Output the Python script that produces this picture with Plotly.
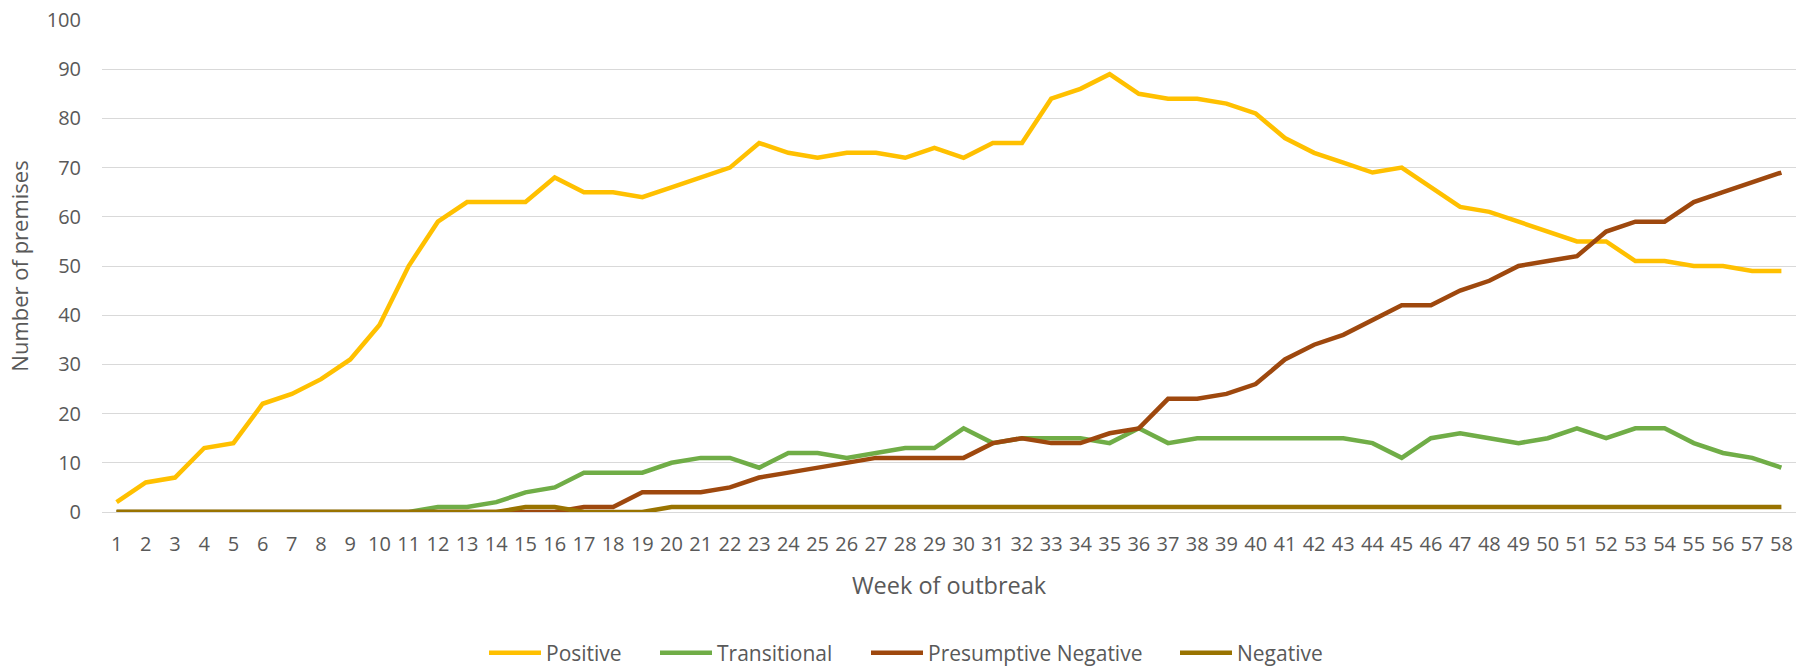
import plotly.graph_objects as go

weeks = list(range(1, 59))

positive = [2, 6, 7, 13, 14, 22, 24, 27, 31, 38,
            50, 59, 63, 63, 63, 68, 65, 65, 64, 66,
            68, 70, 75, 73, 72, 73, 73, 72, 74, 72,
            75, 75, 84, 86, 89, 85, 84, 84, 83, 81,
            76, 73, 71, 69, 70, 66, 62, 61, 59, 57,
            55, 55, 51, 51, 50, 50, 49, 49]

transitional = [0, 0, 0, 0, 0, 0, 0, 0, 0, 0,
                0, 1, 1, 2, 4, 5, 8, 8, 8, 10,
                11, 11, 9, 12, 12, 11, 12, 13, 13, 17,
                14, 15, 15, 15, 14, 17, 14, 15, 15, 15,
                15, 15, 15, 14, 11, 15, 16, 15, 14, 15,
                17, 15, 17, 17, 14, 12, 11, 9]

presumptive_negative = [0, 0, 0, 0, 0, 0, 0, 0, 0, 0,
                        0, 0, 0, 0, 0, 0, 1, 1, 4, 4,
                        4, 5, 7, 8, 9, 10, 11, 11, 11, 11,
                        14, 15, 14, 14, 16, 17, 23, 23, 24, 26,
                        31, 34, 36, 39, 42, 42, 45, 47, 50, 51,
                        52, 57, 59, 59, 63, 65, 67, 69]

negative = [0, 0, 0, 0, 0, 0, 0, 0, 0, 0,
            0, 0, 0, 0, 1, 1, 0, 0, 0, 1,
            1, 1, 1, 1, 1, 1, 1, 1, 1, 1,
            1, 1, 1, 1, 1, 1, 1, 1, 1, 1,
            1, 1, 1, 1, 1, 1, 1, 1, 1, 1,
            1, 1, 1, 1, 1, 1, 1, 1]

series_names = ["Positive", "Transitional", "Presumptive Negative", "Negative"]
series_values = [positive, transitional, presumptive_negative, negative]
series_colors = ["#FFC000", "#70AD47", "#9E480E", "#997300"]

W, H = 1813, 666
M_L, M_R, M_T, M_B = 102, 17, 20, 154
plot_w = W - M_L - M_R
plot_h = H - M_T - M_B

# pixel positions where each legend entry's symbol should start (Excel-like spacing)
legend_symbol_px = [491, 662, 873, 1182]
legend_ids = ["legend", "legend2", "legend3", "legend4"]
legend_center_px = 653

font_family = "Open Sans, sans-serif"
grey = "#595959"

fig = go.Figure()
for name, vals, color, lid in zip(series_names, series_values, series_colors, legend_ids):
    fig.add_trace(go.Scatter(
        x=weeks, y=vals, name=name, mode="lines",
        line=dict(color=color, width=4.5, shape="linear"),
        legend=lid,
    ))

legend_y = (H - M_B - legend_center_px) / plot_h
legend_common = dict(orientation="h", xanchor="left", y=legend_y, yanchor="middle",
                     font=dict(size=21, color=grey), itemwidth=52,
                     bgcolor="rgba(0,0,0,0)")
layout_legends = {}
for lid, px in zip(legend_ids, legend_symbol_px):
    layout_legends[lid] = dict(x=(px - 7 - M_L) / plot_w, **legend_common)

fig.update_layout(
    width=W, height=H,
    margin=dict(l=M_L, r=M_R, t=M_T, b=M_B, autoexpand=False),
    plot_bgcolor="white", paper_bgcolor="white",
    font=dict(family=font_family, color=grey, size=20),
    showlegend=True,
    **layout_legends,
)

fig.update_xaxes(
    range=[0.5, 58.5],
    tickmode="array", tickvals=weeks, ticktext=[str(w) for w in weeks],
    tickangle=0,
    showgrid=False, zeroline=False,
    showline=True, linecolor="#D9D9D9", linewidth=1,
    ticks="", ticklabelstandoff=14, tickfont=dict(size=20, color=grey),
    title=dict(text="Week of outbreak", font=dict(size=23.5, color=grey), standoff=21),
)

fig.update_yaxes(
    range=[0, 100], dtick=10,
    showgrid=True, gridcolor="#D9D9D9", gridwidth=1,
    zeroline=False, showline=False, ticks="",
    ticklabelstandoff=20,
    tickfont=dict(size=20, color=grey),
    title=dict(text="Number of premises", font=dict(size=22, color=grey), standoff=11),
)

fig.write_html("out.html",
               config={"displayModeBar": False},
               post_script="document.body.style.margin='0';document.body.style.overflow='hidden';")
